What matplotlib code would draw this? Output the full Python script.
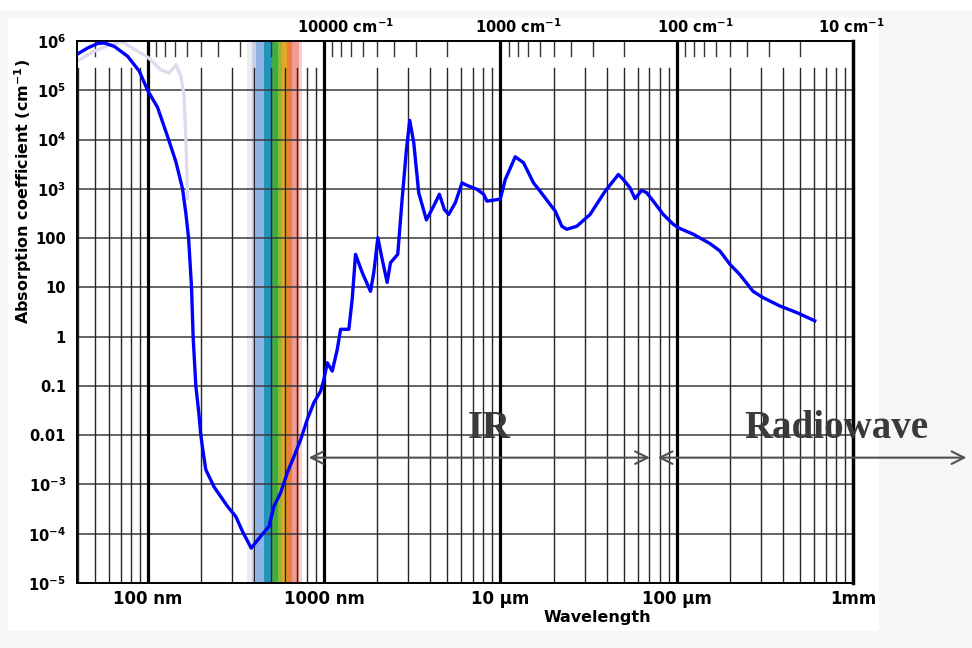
import matplotlib
matplotlib.use('Agg')
import matplotlib.pyplot as plt
import numpy as np
from matplotlib.patches import Rectangle
from matplotlib.ticker import NullLocator

plt.rcParams['font.family'] = ['DejaVu Sans']
plt.rcParams['mathtext.default'] = 'bf'

# absorption of liquid water, wavelength in nm, alpha in cm^-1
wl_nm = [39.6, 45.6, 51.9, 56.6, 64.5, 76.7, 89.3, 99.6, 113.5, 131.0, 144.1, 157.2,
         164.2, 170.1, 176.8, 180.5, 187.0, 194.5, 199.6, 204.9, 213.0, 237.3, 282.7,
         315.0, 343.7, 385.5, 436.5, 486.3, 519.0, 566.4, 618.0, 673.8, 735.4, 802.4,
         874.4, 954.1, 996.1, 1041, 1111, 1186, 1239, 1380, 1442, 1506, 1643, 1831,
         1912, 2015, 2133, 2277, 2377, 2614, 2768, 2929, 3057, 3221, 3438, 3800, 4181,
         4502, 4807, 5083, 5548, 6053, 6462, 7361, 8024, 8388, 9975, 10650, 12130,
         13510, 15400, 16800, 19150, 20440, 22290, 23790, 27120, 32250, 39210, 46650,
         49770, 54330, 57990, 63270, 67530, 73620, 83860, 95540, 101980, 124000,
         154200, 175600, 200100, 228000, 271200, 308900, 383900, 477500, 606400]
alpha = [5.37e5, 7.24e5, 8.91e5, 9.12e5, 7.76e5, 4.9e5, 2.45e5, 1.0e5, 4.47e4, 1.0e4,
         3.55e3, 1.0e3, 316, 100, 10, 1.0, 0.1, 0.0282, 0.01, 5.0e-3, 2.0e-3, 8.9e-4,
         3.6e-4, 2.24e-4, 1.12e-4, 5.1e-5, 8.9e-5, 1.41e-4, 3.6e-4, 6.8e-4, 1.74e-3,
         3.7e-3, 8.1e-3, 0.021, 0.046, 0.078, 0.135, 0.295, 0.20, 0.55, 1.41, 1.41,
         5.75, 46.8, 20.0, 8.3, 20.0, 102, 37.2, 12.6, 31.6, 46.8, 617, 6.3e3, 2.45e4,
         8.7e3, 832, 234, 447, 776, 380, 302, 525, 1318, 1175, 977, 776, 562, 617, 1549,
         4467, 3388, 1318, 891, 479, 355, 174, 151, 174, 302, 891, 1950, 1549, 1047,
         631, 933, 832, 562, 302, 191, 162, 120, 77.6, 55, 29.5, 18.2, 8.3, 6.2, 4.2,
         3.1, 2.1]

# faint second curve in the UV
wl_uv = [39.6, 49.6, 61.7, 71.9, 87.4, 100.4, 118.5, 132.0, 144.1, 153.7, 160.5, 164.2, 167.9]
alpha_uv = [3.9e5, 6.2e5, 8.5e5, 9.5e5, 6.2e5, 4.6e5, 2.6e5, 2.24e5, 3.3e5, 1.95e5, 7.6e4, 1.0e4, 630]

# visible spectrum band
band_edges = [367, 388, 413, 456, 508, 550, 579, 618, 660, 719, 752]
band_colors = ['#ececf0', '#c9cfe4', '#8fb1e3', '#2394b9', '#3fac48', '#8cbc34',
               '#e3a52a', '#ee7f3a', '#f09a94', '#f7d0d0']

y_ticks = [1e-5, 1e-4, 1e-3, 0.01, 0.1, 1, 10, 100, 1e3, 1e4, 1e5, 1e6]
y_labels = ['$10^{-5}$', '$10^{-4}$', '$10^{-3}$', '0.01', '0.1', '1', '10', '100',
            '$10^{3}$', '$10^{4}$', '$10^{5}$', '$10^{6}$']
x_ticks = [100, 1000, 1e4, 1e5, 1e6]
x_labels = ['100 nm', '1000 nm', '10 µm', '100 µm', '1mm']
wn_labels = ['10000 cm$^{-1}$', '1000 cm$^{-1}$', '100 cm$^{-1}$', '10 cm$^{-1}$']
wn_label_x = [0.283, 0.513, 0.747, 0.955]

fig = plt.figure(figsize=(9.72, 6.48), dpi=100, facecolor='#f6f6f4')
fig.patches.append(Rectangle((8 / 972, 18 / 648), 870 / 972, 612 / 648,
                             transform=fig.transFigure, color='white', zorder=-10))
fig.patches.append(Rectangle((0, 638 / 648), 1, 10 / 648,
                             transform=fig.transFigure, color='white', zorder=-10))

ax = fig.add_axes([77 / 972, 65 / 648, 776 / 972, 542 / 648])
ax.set_xscale('log')
ax.set_yscale('log')
ax.set_xlim(39.6, 1e6)
ax.set_ylim(1e-5, 1e6)
ax.set_facecolor('white')

for i, c in enumerate(band_colors):
    ax.axvspan(band_edges[i], band_edges[i + 1], color=c, lw=0, zorder=0.5)

# grid
for v in y_ticks[1:-1]:
    ax.axhline(v, color='#3a3a3a', lw=1.1, zorder=1)
for k in range(1, 6):
    for m in range(2, 10):
        x = m * 10.0 ** k
        if 39.6 < x < 1e6:
            ax.axvline(x, ymin=0, ymax=0.95, color='#262626', lw=1.0, zorder=1)
        lam = 1e7 / (m * 10.0 ** k)
        if 39.6 < lam < 1e6:
            ax.axvline(lam, ymin=0.972, ymax=1.0, color='#333333', lw=1.0, zorder=1)
for x in x_ticks[:-1]:
    ax.axvline(x, color='black', lw=2.3, zorder=1.2)

ax.plot(wl_uv, alpha_uv, color='#dcdcee', lw=2.4, zorder=2, solid_capstyle='round')
ax.plot(wl_nm, alpha, color='#0000ff', lw=2.4, zorder=3, solid_joinstyle='round')

for side in ['left', 'bottom', 'top']:
    ax.spines[side].set_linewidth(1.4)
ax.spines['right'].set_linewidth(2.5)

ax.xaxis.set_minor_locator(NullLocator())
ax.yaxis.set_minor_locator(NullLocator())
ax.set_yticks(y_ticks)
ax.set_yticklabels(y_labels, fontsize=10.5, fontweight='bold')
ax.set_xticks(x_ticks)
ax.set_xticklabels(x_labels, fontsize=12, fontweight='bold')
ax.tick_params(axis='both', length=0)
ax.tick_params(axis='y', pad=8)
ax.tick_params(axis='x', pad=5)

ax.set_ylabel('Absorption coefficient (cm$^{-1}$)', fontsize=11.5, fontweight='bold')
ax.yaxis.set_label_coords(-0.056, 0.723)
ax.text(0.670, -0.063, 'Wavelength', transform=ax.transAxes, ha='center', va='center',
        fontsize=11.5, fontweight='bold')

for lab, xf in zip(wn_labels, wn_label_x):
    ax.text(xf, 1.027, lab, transform=ax.transAxes, ha='left', va='center',
            fontsize=10.5, fontweight='bold')

# region arrows
arrow_kw = dict(arrowstyle='<->,head_length=0.9,head_width=0.45', color='#505050',
                lw=1.5, shrinkA=0, shrinkB=0, mutation_scale=10)
ax.annotate('', xy=(817, 3.5e-3), xytext=(70500, 3.5e-3), arrowprops=arrow_kw,
            annotation_clip=False, zorder=4)
ax.annotate('', xy=(78000, 3.5e-3), xytext=(4.4e6, 3.5e-3), arrowprops=arrow_kw,
            annotation_clip=False, zorder=4)
ax.text(8645, 0.0135, 'IR', family='Liberation Serif', fontweight='bold', fontsize=28,
        color='#3a3a3a', ha='center', va='center', zorder=5)
ax.text(8.07e5, 0.0135, 'Radiowave', family='Liberation Serif', fontweight='bold',
        fontsize=28, color='#3a3a3a', ha='center', va='center', zorder=5, clip_on=False)

fig.savefig('out.png', dpi=100, facecolor=fig.get_facecolor())
